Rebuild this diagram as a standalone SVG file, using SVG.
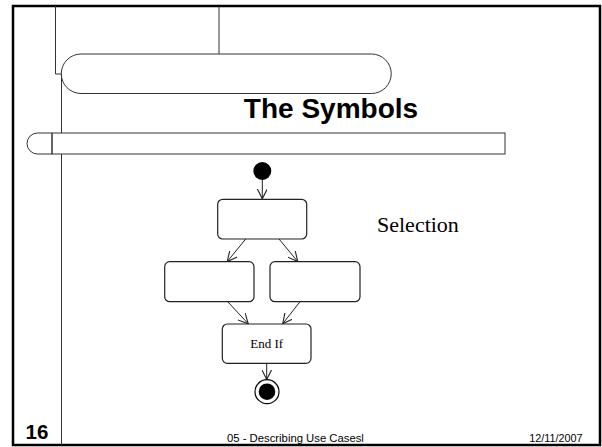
<svg xmlns="http://www.w3.org/2000/svg" width="602" height="447" viewBox="0 0 602 447">
<style>
.ln{fill:none;stroke:#333;stroke-width:1}
.box{fill:#fff;stroke:#222;stroke-width:1.2}
.con{fill:none;stroke:#222;stroke-width:1}
.sans{font-family:"Liberation Sans",Arial,sans-serif}
.serif{font-family:"Liberation Serif","Times New Roman",serif}
</style>
<defs>
<marker id="arr" viewBox="0 0 10 10" refX="10" refY="5" markerWidth="10" markerHeight="10" markerUnits="userSpaceOnUse" orient="auto">
<path d="M0,0 L10,5 L0,10" fill="none" stroke="#222" stroke-width="1.1"/>
</marker>
</defs>
<rect x="0" y="0" width="602" height="447" fill="#fff"/>
<g id="frame">
<rect x="13" y="6" width="587" height="439" fill="none" stroke="#000" stroke-width="2.5"/>
<path class="ln" d="M55.5,6 V74 H61.5 V133 M61.5,154 V445"/>
<path class="ln" d="M219,6 V54"/>
<path class="ln" d="M81,54 H371.5 A19.7,19.7 0 0 1 371.5,93.5 H81 A19.7,19.7 0 0 1 81,54 Z"/>
<path class="ln" d="M52,133 H37.5 A10.5,10.5 0 0 0 37.5,154 H52 Z"/>
<rect class="ln" x="52" y="133" width="453" height="21"/>
</g>
<g id="title"><text class="sans" x="331" y="118" font-size="28" font-weight="bold" text-anchor="middle">The Symbols</text></g>
<g id="selection-label"><text class="serif" x="377" y="231.5" font-size="22">Selection</text></g>
<g id="connectors">
<line class="con" x1="262.3" y1="180" x2="262.3" y2="198.8" marker-end="url(#arr)"/>
<line class="con" x1="245.7" y1="239" x2="227.3" y2="261.5" marker-end="url(#arr)"/>
<line class="con" x1="279" y1="239" x2="297.7" y2="261.5" marker-end="url(#arr)"/>
<line class="con" x1="227.7" y1="301.7" x2="248.3" y2="323.8" marker-end="url(#arr)"/>
<line class="con" x1="300" y1="301.7" x2="282.7" y2="323.8" marker-end="url(#arr)"/>
<line class="con" x1="266.7" y1="363.3" x2="266.7" y2="379.5" marker-end="url(#arr)"/>
</g>
<g id="start"><circle cx="262.3" cy="171" r="9" fill="#000"/></g>
<g id="action1"><rect class="box" x="217.7" y="199.3" width="89" height="39.7" rx="5"/></g>
<g id="action2"><rect class="box" x="164.7" y="261.7" width="89.3" height="40" rx="5"/></g>
<g id="action3"><rect class="box" x="270" y="261.7" width="90" height="40" rx="5"/></g>
<g id="endif"><rect class="box" x="222.3" y="324" width="88.7" height="39.3" rx="5"/>
<text class="serif" x="266.7" y="347.5" font-size="13" text-anchor="middle">End If</text></g>
<g id="final"><circle cx="267" cy="391.7" r="12" fill="#fff" stroke="#000" stroke-width="1.2"/><circle cx="267" cy="391.7" r="8.3" fill="#000"/></g>
<g id="footer">
<text class="sans" x="25.5" y="438.5" font-size="20.5" font-weight="bold">16</text>
<text class="sans" x="227" y="442" font-size="11.3">05 - Describing Use Casesl</text>
<text class="sans" x="582.5" y="442" font-size="10.8" text-anchor="end">12/11/2007</text>
</g>
</svg>
